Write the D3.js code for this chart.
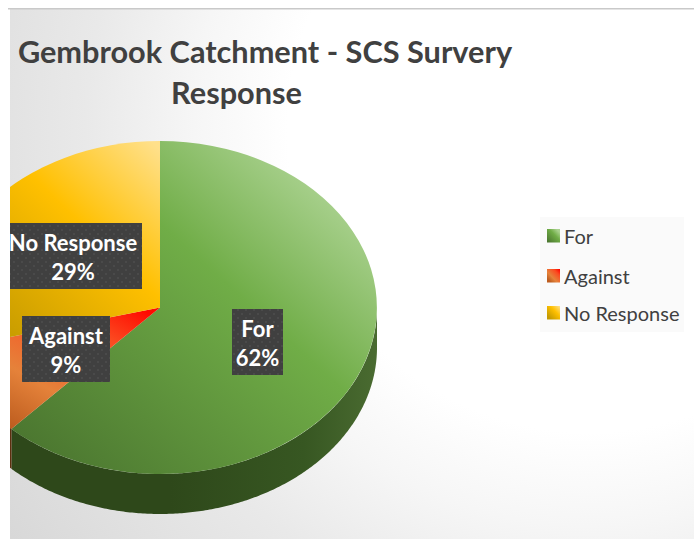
<!DOCTYPE html>
<html>
<head>
<meta charset="utf-8">
<script src="https://cdn.jsdelivr.net/npm/d3@7"></script>
<style>
  html, body { margin: 0; padding: 0; background: #fff; }
  svg { display: block; }
  text { font-family: Lato, "Open Sans", sans-serif; }
</style>
</head>
<body>
<svg id="chart" width="694" height="539"></svg>
<script>
// Survey response shares
const categories = ["For", "Against", "No Response"];
const shares = [62, 9, 29];
const titleLines = ["Gembrook Catchment - SCS Survery", "Response"];

// Per-slice gradient stops along the upper-right to lower-left diagonal
const faceStops = [
  [[0.14, "#a9d18e"], [0.42, "#70ad47"], [1, "#47702d"]],
  [[0.05, "#ff0a00"], [0.25, "#fb4a20"], [0.6, "#e5823a"], [0.85, "#bd5d1f"]],
  [[0.02, "#ffe08a"], [0.38, "#ffc000"], [0.85, "#c49a00"]]
];
const wallColors = ["#2e481a", "#5e2f0f", "#8a6a00"];
const labelBoxes = [
  { x0: 232, x1: 283, y0: 309, y1: 375, textX: 257.5 },
  { x0: 22, x1: 110, y0: 316, y1: 382, textX: 66 },
  { x0: 10, x1: 142, y0: 223, y1: 289, textX: 73 }
];
const legendRows = [236, 276, 313];

const W = 694, H = 539;
const frame = { left: 10, top: 9 };
const pieCentre = { x: 160, y: 307.5 };
const radiusX = 217, radiusY = 166.5, depth = 40;

const svg = d3.select("#chart");
const defs = svg.append("defs");

// Chart backdrop: white at the upper right, grey towards the lower left
const bg = defs.append("radialGradient").attr("id", "bg")
  .attr("gradientUnits", "userSpaceOnUse")
  .attr("cx", 590).attr("cy", 130).attr("r", 720);
[[0, "#ffffff"], [0.42, "#ffffff"], [0.55, "#f6f6f6"], [0.7, "#e9e9e9"], [1, "#d7d7d7"]].forEach(([o, c]) =>
  bg.append("stop").attr("offset", o).attr("stop-color", c));

categories.forEach((c, i) => {
  const g = defs.append("linearGradient").attr("id", "face" + i)
    .attr("x1", 1).attr("y1", 0).attr("x2", 0).attr("y2", 1);
  faceStops[i].forEach(([o, col]) =>
    g.append("stop").attr("offset", o).attr("stop-color", col));
});

const wallGrad = defs.append("linearGradient").attr("id", "wall0")
  .attr("gradientUnits", "userSpaceOnUse")
  .attr("x1", 377).attr("y1", 0).attr("x2", 170).attr("y2", 0);
wallGrad.append("stop").attr("offset", 0).attr("stop-color", "#4a6b31");
wallGrad.append("stop").attr("offset", 0.35).attr("stop-color", "#375722");
wallGrad.append("stop").attr("offset", 1).attr("stop-color", wallColors[0]);

// Fine dot texture on the label boxes
const dots = defs.append("pattern").attr("id", "dots")
  .attr("patternUnits", "userSpaceOnUse").attr("width", 8).attr("height", 8);
dots.append("rect").attr("width", 8).attr("height", 8).attr("fill", "#404040");
dots.append("circle").attr("cx", 2).attr("cy", 2).attr("r", 1).attr("fill", "#4d4d4d");
dots.append("circle").attr("cx", 6).attr("cy", 6).attr("r", 1).attr("fill", "#4d4d4d");

defs.append("clipPath").attr("id", "plotClip").append("rect")
  .attr("x", frame.left).attr("y", frame.top)
  .attr("width", W - frame.left).attr("height", H - frame.top);

// Chart area and its top rule
svg.append("rect").attr("x", frame.left).attr("y", frame.top)
  .attr("width", W - frame.left).attr("height", H - frame.top).attr("fill", "url(#bg)");
svg.append("rect").attr("x", 8).attr("y", 8).attr("width", W - 8).attr("height", 1.5)
  .attr("fill", "#c9c9c9");

// Title: the second line sits left of the first line's centre
const titleX = [265, 236.5];
svg.append("g").selectAll("text").data(titleLines).join("text")
  .attr("x", (d, i) => titleX[i]).attr("y", (d, i) => 63 + i * 41)
  .attr("text-anchor", "middle").attr("font-size", 30.7).attr("font-weight", 700)
  .attr("fill", "#404040").text(d => d);

// Pie: a unit circle squashed into an ellipse, plus an extruded wall
const pie = d3.pie().value(d => d).sort(null);
const slices = pie(shares);
const xScale = d3.scaleLinear().domain([-1, 1]).range([pieCentre.x - radiusX, pieCentre.x + radiusX]);
const yScale = d3.scaleLinear().domain([-1, 1]).range([pieCentre.y - radiusY, pieCentre.y + radiusY]);
const rimX = a => xScale(Math.sin(a));
const rimY = a => yScale(-Math.cos(a));

const plot = svg.append("g").attr("clip-path", "url(#plotClip)");

// Wall: only the part of the rim that faces the viewer
const wallPath = (a0, a1) => {
  const lo = Math.max(a0, Math.PI / 2), hi = Math.min(a1, 3 * Math.PI / 2);
  if (hi <= lo) return null;
  const angles = d3.range(lo, hi, 0.01).concat([hi]);
  const area = d3.area().x(a => rimX(a)).y0(a => rimY(a)).y1(a => rimY(a) + depth);
  return area(angles);
};
plot.append("g").selectAll("path").data(slices).join("path")
  .attr("d", d => wallPath(d.startAngle, d.endAngle))
  .attr("fill", (d, i) => i === 0 ? "url(#wall0)" : wallColors[i]);

// Top faces
const arc = d3.arc().innerRadius(0).outerRadius(1);
plot.append("g")
  .attr("transform", `translate(${pieCentre.x},${pieCentre.y}) scale(${radiusX},${radiusY})`)
  .selectAll("path").data(slices).join("path")
  .attr("d", arc)
  .attr("fill", (d, i) => `url(#face${i})`);

// Data labels
const labels = plot.append("g").selectAll("g").data(categories).join("g");
labels.append("rect")
  .attr("x", (d, i) => labelBoxes[i].x0).attr("y", (d, i) => labelBoxes[i].y0)
  .attr("width", (d, i) => labelBoxes[i].x1 - labelBoxes[i].x0)
  .attr("height", (d, i) => labelBoxes[i].y1 - labelBoxes[i].y0)
  .attr("fill", "url(#dots)");
labels.append("text")
  .attr("x", (d, i) => labelBoxes[i].textX)
  .attr("y", (d, i) => labelBoxes[i].y0 + 28)
  .attr("text-anchor", "middle").attr("font-size", 22).attr("font-weight", 700)
  .attr("fill", "#fff").text(d => d);
labels.append("text")
  .attr("x", (d, i) => labelBoxes[i].textX)
  .attr("y", (d, i) => labelBoxes[i].y0 + 57)
  .attr("text-anchor", "middle").attr("font-size", 22).attr("font-weight", 700)
  .attr("fill", "#fff").text((d, i) => shares[i] + "%");

// Legend
svg.append("rect").attr("x", 540).attr("y", 217).attr("width", 144).attr("height", 115)
  .attr("fill", "#fafafa");
const legend = svg.append("g").selectAll("g").data(categories).join("g")
  .attr("transform", (d, i) => `translate(547,${legendRows[i]})`);
legend.append("rect").attr("y", -7).attr("width", 13).attr("height", 13.5)
  .attr("fill", (d, i) => `url(#face${i})`);
legend.append("text").attr("x", 17).attr("y", 8)
  .attr("font-size", 20).attr("fill", "#404040").text(d => d);
</script>
</body>
</html>
